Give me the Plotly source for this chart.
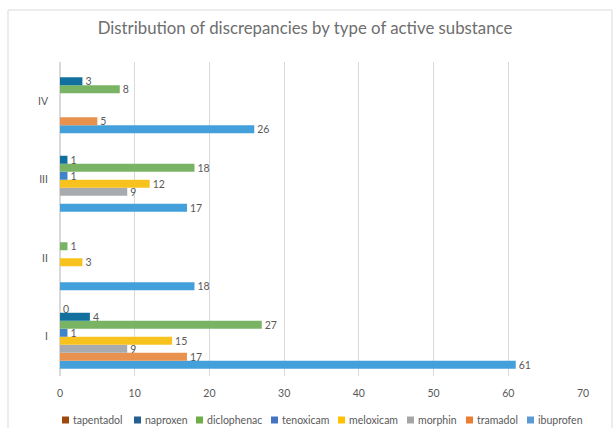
import plotly.graph_objects as go

categories = ["I", "II", "III", "IV"]
series_names = ["ibuprofen", "tramadol", "morphin", "meloxicam",
                "tenoxicam", "diclophenac", "naproxen", "tapentadol"]
ibuprofen = [61, 18, 17, 26]
tramadol = [17, None, None, 5]
morphin = [9, None, 9, None]
meloxicam = [15, 3, 12, None]
tenoxicam = [1, None, 1, None]
diclophenac = [27, 1, 18, 8]
naproxen = [4, None, 1, 3]
tapentadol = [0, None, None, None]
series_values = [ibuprofen, tramadol, morphin, meloxicam,
                 tenoxicam, diclophenac, naproxen, tapentadol]
colors = ["#44A0DA", "#E9914F", "#A7ABB0", "#F7C21E",
          "#3E84C6", "#78B463", "#12709F", "#9E480E"]
legend_colors = ["#5B9BD5", "#ED7D31", "#A5A5A5", "#FFC000",
                 "#4472C4", "#70AD47", "#255E91", "#9E480E"]
x_ticks = [0, 10, 20, 30, 40, 50, 60, 70]

W, H = 614, 428
L, R, T, B = 60, 31, 62, 52

fig = go.Figure()
for name, vals, col in zip(series_names, series_values, colors):
    fig.add_trace(go.Bar(
        y=categories, x=vals, name=name, orientation="h",
        marker=dict(color=col, line=dict(width=0)),
        text=[("" if v is None else str(v)) for v in vals],
        textposition="outside", cliponaxis=False, constraintext="none",
        textfont=dict(color="#595959", size=10.5, family="Lato"),
        showlegend=False,
    ))

fig.update_layout(
    width=W, height=H,
    margin=dict(l=L, r=R, t=T, b=B, autoexpand=False),
    paper_bgcolor="white", plot_bgcolor="white",
    barmode="group", bargap=0.185, bargroupgap=0,
    title=dict(text="Distribution of discrepancies by type of active substance",
               x=305 / W, xanchor="center", xref="container", y=1 - 28 / H, yanchor="middle",
               font=dict(family="Lato", size=16.8, color="#6E6E6E")),
    font=dict(family="Lato", color="#595959", size=11),
    showlegend=False,
)
fig.update_xaxes(range=[0, 70], tickvals=x_ticks, showgrid=True,
                 gridcolor="#D9D9D9", gridwidth=1, zeroline=True,
                 zerolinecolor="#D9D9D9", showline=False,
                 ticks="", ticklabelstandoff=9,
                 tickfont=dict(size=10.5, color="#595959"))
fig.update_yaxes(categoryorder="array", categoryarray=categories,
                 showgrid=False, showline=False, ticks="",
                 ticklabelstandoff=11,
                 tickfont=dict(size=10.5, color="#595959"))

pw, ph = W - L - R, H - T - B
def px(x):
    return (x - L) / pw
def py(y):
    return (H - B - y) / ph

# chart border
fig.add_shape(type="rect", xref="paper", yref="paper",
              x0=px(8), x1=px(612), y0=py(440), y1=py(10),
              line=dict(color="#D9D9D9", width=1), layer="below")

# custom legend (reversed order, compact like the original)
legend_x = [62, 134, 196, 271, 338, 407, 466, 527]
legend_y = 420
for lx, name, col in zip(legend_x, series_names[::-1], legend_colors[::-1]):
    fig.add_shape(type="rect", xref="paper", yref="paper",
                  x0=px(lx), x1=px(lx + 7), y0=py(legend_y + 3.5), y1=py(legend_y - 3.5),
                  fillcolor=col, line=dict(width=0))
    fig.add_annotation(text=name, xref="paper", yref="paper",
                       x=px(lx + 9), y=py(legend_y), xanchor="left", yanchor="middle",
                       showarrow=False, font=dict(family="Lato", size=10.5, color="#595959"))

fig.write_html("out.html")
